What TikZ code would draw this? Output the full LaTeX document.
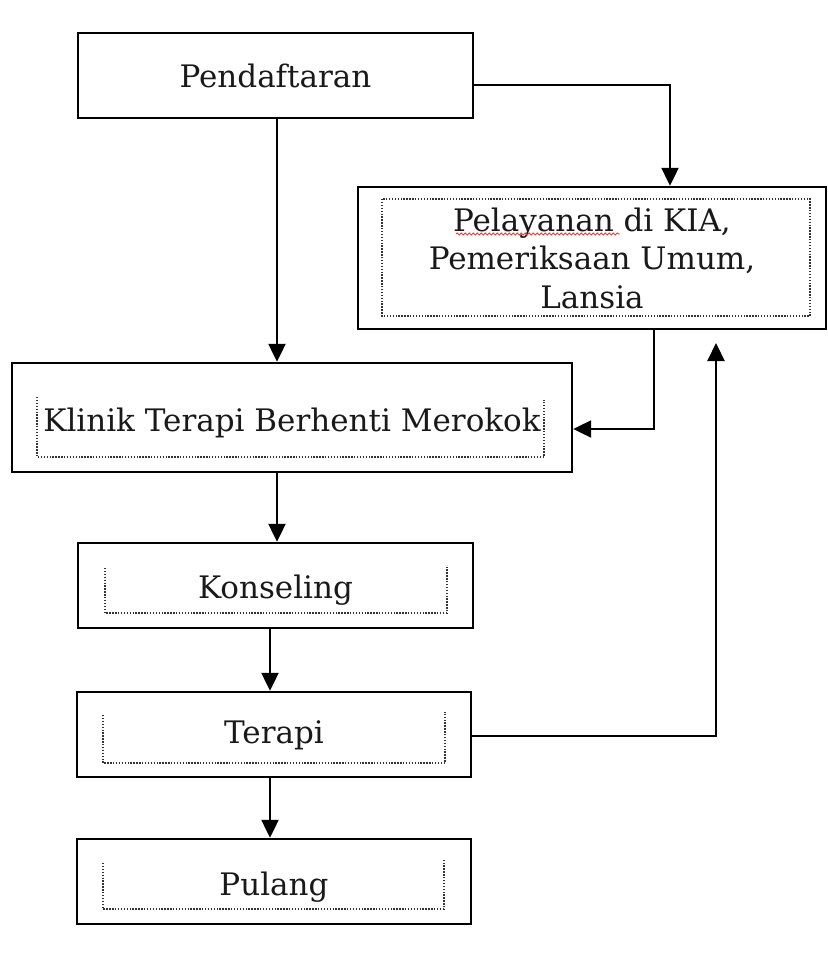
\documentclass[tikz,border=0pt]{standalone}
\usepackage{fontspec}
\setmainfont{DejaVu Serif}
\usetikzlibrary{arrows.meta,decorations.pathmorphing}
\newcommand{\lowr}[2]{\raisebox{-#1}[\height][\depth]{#2}}
\tikzset{
  box/.style={draw=black, line width=2.4pt, rectangle, inner sep=0pt, align=center,
              font=\fontsize{31}{38.5}\selectfont, text=black!90},
  arr/.style={draw=black, line width=2.2pt, -{Triangle[length=18pt,width=17pt]}},
  dots/.style={draw=black!80, line width=1.5pt, dash pattern=on 1.4pt off 1.5pt},
}
\begin{document}
\begin{tikzpicture}[x=1pt,y=-1pt]
\useasboundingbox (0,0) rectangle (827,963);
% boxes
\node[box, minimum width=395pt, minimum height=85pt] (pend) at (275.5,75.5) {Pendaftaran};
\node[box, minimum width=468pt, minimum height=142pt] (pel) at (592,258) {Pelayanan di KIA,\\Pemeriksaan Umum,\\Lansia};
\node[box, minimum width=560pt, minimum height=109pt] (klinik) at (292,417.5) {\lowr{5pt}{Klinik Terapi Berhenti Merokok}};
\node[box, minimum width=395pt, minimum height=85pt] (kons) at (275.5,585.5) {\lowr{5pt}{Konseling}};
\node[box, minimum width=394pt, minimum height=85pt] (ter) at (274,734.5) {\lowr{1pt}{Terapi}};
\node[box, minimum width=394pt, minimum height=85pt] (pul) at (274,881.5) {\lowr{6pt}{Pulang}};
% inner dotted frames
\draw[dots] (382,199) rectangle (810,316);
\draw[dots] (37,397) -- (37,457) -- (544,457) -- (544,400);
\draw[dots] (105,568) -- (105,613) -- (447,613) -- (447,565);
\draw[dots] (103,715) -- (103,763) -- (445,763) -- (445,712);
\draw[dots] (103,863) -- (103,909) -- (444,909) -- (444,860);
% spell-check underline
\draw[red!80, line width=0.9pt, decorate, decoration={snake, amplitude=1pt, segment length=4pt}] (456,234) -- (620,234);
% connectors
\coordinate (up) at (716,343);
\draw[arr] ([xshift=1.5pt]pend.south) -- ([xshift=1.5pt]pend.south |- klinik.north);
\draw[arr] ([yshift=-9.5pt]pend.east) -| ([xshift=78pt]pel.north);
\draw[arr] ([xshift=62pt]pel.south) |- ([yshift=-11.5pt]klinik.east);
\draw[arr] ([yshift=-1.5pt]ter.east) -| (up);
\draw[arr] ([xshift=-15pt]klinik.south) -- ([xshift=-15pt]klinik.south |- kons.north);
\draw[arr] ([xshift=-5.5pt]kons.south) -- ([xshift=-5.5pt]kons.south |- ter.north);
\draw[arr] ([xshift=-4pt]ter.south) -- ([xshift=-4pt]ter.south |- pul.north);
\end{tikzpicture}
\end{document}
